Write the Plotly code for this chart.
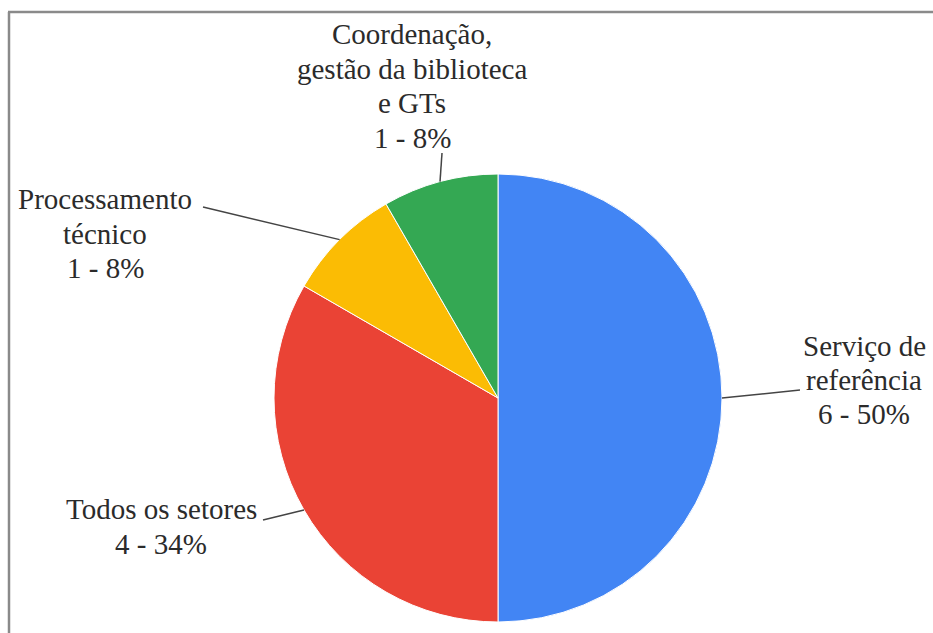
import math
import plotly.graph_objects as go

# ---- data ----
labels = ["Serviço de referência", "Todos os setores", "Processamento técnico",
          "Coordenação, gestão da biblioteca e GTs"]
label_lines = [["Serviço de", "referência"], ["Todos os setores"],
               ["Processamento", "técnico"], ["Coordenação,", "gestão da biblioteca", "e GTs"]]
values = [6, 4, 1, 1]
percents = [50, 34, 8, 8]
colors = ["#4285F4", "#EA4335", "#FBBC04", "#34A853"]

# ---- layout geometry (pixels) ----
W, H = 933, 633
cx, cy, R = 498, 398, 224
# label block: (center x, first line center y, line spacing)
label_pos = [(864, 346, 34), (161, 509, 35), (105, 199, 34.5), (412, 34, 34.7)]
# outer end of each leader line
leader_end = [(800, 390), (263, 520), (203, 207), (442, 153)]

FONT = "Liberation Serif"
FSIZE = 29
TCOL = "#2b2b2b"


def px(x):
    return x / W


def py(y):
    return 1 - y / H


fig = go.Figure(go.Pie(
    labels=labels, values=values, sort=False, direction="clockwise", rotation=0,
    marker=dict(colors=colors, line=dict(color="white", width=1)),
    textinfo="none", hoverinfo="label+value", showlegend=False,
    domain=dict(x=[px(cx - R), px(cx + R)], y=[py(cy + R), py(cy - R)]),
))

annotations = []
shapes = []
total = sum(values)
cum = 0
for i, v in enumerate(values):
    mid = (cum + v / 2) / total * 2 * math.pi
    cum += v
    ex = cx + R * math.sin(mid)
    ey = cy - R * math.cos(mid)
    ox, oy = leader_end[i]
    shapes.append(dict(type="line", xref="paper", yref="paper",
                       x0=px(ex), y0=py(ey), x1=px(ox), y1=py(oy),
                       line=dict(color="#444444", width=1.5)))
    lx, ly, sp = label_pos[i]
    lines = label_lines[i] + [f"{v} - {percents[i]}%"]
    for j, t in enumerate(lines):
        annotations.append(dict(text=t, xref="paper", yref="paper",
                                x=px(lx), y=py(ly + j * sp), xanchor="center", yanchor="middle",
                                showarrow=False, font=dict(family=FONT, size=FSIZE, color=TCOL)))

# frame (top and left edges)
shapes.append(dict(type="line", xref="paper", yref="paper", x0=px(8), y0=py(12), x1=1, y1=py(12),
                   line=dict(color="#8a8a8a", width=2.5)))
shapes.append(dict(type="line", xref="paper", yref="paper", x0=px(9), y0=py(12), x1=px(9), y1=0,
                   line=dict(color="#8a8a8a", width=2.5)))

fig.update_layout(width=W, height=H, margin=dict(l=0, r=0, t=0, b=0),
                  paper_bgcolor="white", plot_bgcolor="white",
                  annotations=annotations, shapes=shapes)
fig.write_html("out.html", config={"displayModeBar": False},
               post_script="document.body.style.margin='0px';document.body.style.overflow='hidden';")
